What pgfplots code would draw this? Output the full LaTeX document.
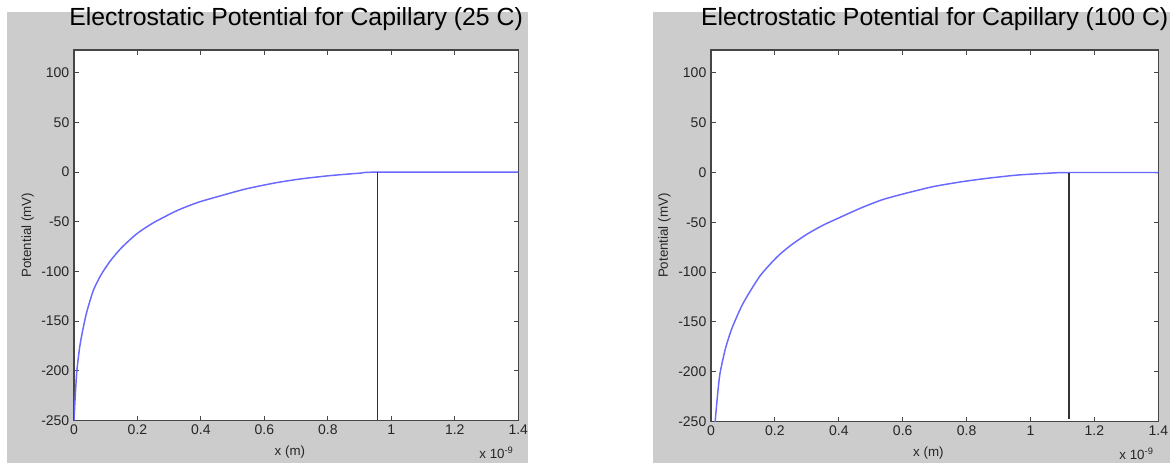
\documentclass[border=0pt]{standalone}
\usepackage{pgfplots}
\pgfplotsset{compat=1.18}
\usepackage{fontspec}
\setmainfont{Liberation Sans}
\definecolor{figgray}{RGB}{204,204,204}
\definecolor{curveblue}{RGB}{105,105,255}
\definecolor{axgray}{RGB}{70,70,70}

\pgfplotstableread{
x y
0.000 -250
0.004 -225
0.009 -200
0.018 -176
0.027 -160
0.040 -141
0.061 -119
0.085 -103.5
0.114 -89.5
0.150 -76
0.198 -62
0.250 -51
0.324 -38.8
0.390 -30.5
0.461 -23.9
0.540 -17
0.629 -11.1
0.710 -7
0.797 -3.8
0.850 -2.3
0.902 -1
0.956 0
1.400 0
}\leftdata

\pgfplotstableread{
x y
0.010 -265
0.013 -250
0.020 -225
0.028 -202
0.045 -177
0.066 -156
0.101 -131
0.153 -104
0.206 -85
0.250 -73
0.300 -62
0.350 -53
0.404 -45
0.470 -35.5
0.539 -27
0.620 -20
0.696 -14.1
0.780 -9.5
0.852 -6.3
0.957 -2.6
1.061 -0.6
1.120 0
1.400 0
}\rightdata

\pgfplotsset{
  mstyle/.style={
    scale only axis,
    xmin=0, xmax=1.4, ymin=-250, ymax=123,
    xtick={0,0.2,0.4,0.6,0.8,1,1.2,1.4},
    ytick={-250,-200,-150,-100,-50,0,50,100},
    tick align=inside,
    major tick length=3.5pt,
    axis line style={axgray, line width=1.1pt},
    tick style={axgray, line width=0.7pt},
    ticklabel style={font=\fontsize{10.5pt}{12pt}\selectfont, text=black!85},
    /pgf/number format/assume math mode=true,
    axis background/.style={fill=white},
    title style={font=\fontsize{18.6pt}{20pt}\selectfont, anchor=base, yshift=12.5pt},
    xlabel={x (m)}, ylabel={Potential (mV)},
    label style={font=\fontsize{10pt}{12pt}\selectfont, text=black!85},
    xlabel style={at={(axis description cs:0.486,-0.084)}, anchor=center},
    ylabel style={at={(axis description cs:-0.104,0.5)}, anchor=center},
  }
}

\begin{document}
\begin{tikzpicture}
\useasboundingbox (0pt,0pt) rectangle (877.5pt,347.25pt);
\fill[figgray] (5.25pt,0pt) rectangle (396pt,338.25pt);
\fill[figgray] (489.75pt,0pt) rectangle (877.5pt,338.25pt);

\begin{axis}[mstyle, name=L,
  at={(55.5pt,31.875pt)}, anchor=south west,
  width=333.2pt, height=277.9pt,
  title={Electrostatic Potential for Capillary (25 C)}]
  \addplot[curveblue, line width=1.1pt, smooth, tension=0.4] table[x=x,y=y] {\leftdata};
  \addplot[black!80, line width=1.1pt] coordinates {(0.956,0) (0.956,-250)};
\end{axis}
\node[anchor=base east, font=\fontsize{10pt}{12pt}\selectfont, text=black!85]
  at ([yshift=-28.5pt]L.south east) {x 10\textsuperscript{-9}};

\begin{axis}[mstyle, name=R,
  at={(533.25pt,31.125pt)}, anchor=south west,
  width=335.5pt, height=278.6pt,
  title={Electrostatic Potential for Capillary (100 C)}]
  \addplot[curveblue, line width=1.1pt, smooth, tension=0.4] table[x=x,y=y] {\rightdata};
  \addplot[black!80, line width=1.1pt] coordinates {(1.12,0) (1.12,-247)};
\end{axis}
\node[anchor=base east, font=\fontsize{10pt}{12pt}\selectfont, text=black!85]
  at ([yshift=-28.5pt]R.south east) {x 10\textsuperscript{-9}};
\end{tikzpicture}
\end{document}
